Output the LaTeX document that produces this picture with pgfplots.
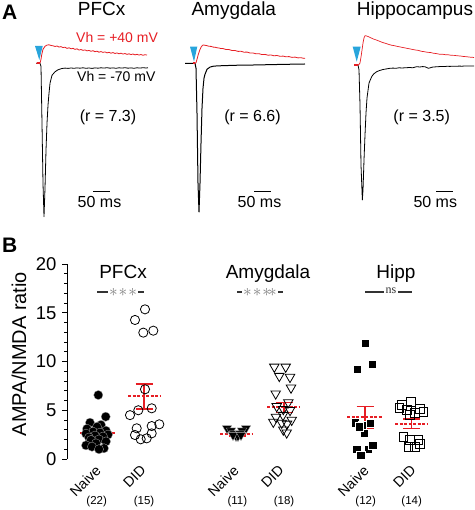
\documentclass[border=0pt]{standalone}
\usepackage{fontspec}
\setmainfont{Liberation Sans}
\usepackage{pgfplots}
\pgfplotsset{compat=1.18}
\definecolor{tred}{RGB}{230,30,36}
\definecolor{tblue}{RGB}{40,165,220}
\newcommand{\fs}[1]{\fontsize{#1}{#1}\selectfont}
\pgfplotsset{trace/.style={hide axis, x=0.33333pt, y=0.1pt, clip=false, anchor=south west, ymin=-1600, ymax=200},
 tr/.style={draw=tred, line width=0.8pt, line join=round},
 tb/.style={draw=black, line width=0.8pt, line join=round},
 meanline/.style={draw=tred, line width=1.8pt, dash pattern=on 3pt off 1.5pt},
 errbar/.style={draw=tred, line width=1.5pt}}
\begin{document}
\begin{tikzpicture}
\useasboundingbox (0pt,0pt) rectangle (474pt,510pt);
% ---------- Panel A: PFCx ----------
\begin{axis}[trace, at={(35pt,286.7pt)}, xmin=-15, xmax=330]
\addplot[fill=tblue, draw=none] coordinates {(-15,173) (8.1,173) (-2.1,33) (-15,173)};
\addplot[tb] coordinates {(-12,0) (0,0) (3,-30) (6,-600) (9,-1200) (12,-1534) (15,-1250) (18,-870) (21,-600) (24,-420) (27,-300) (30,-200) (36,-120) (45,-85) (54,-65) (60,-58) (66,-52) (75,-48) (84,-51) (93,-47) (102,-50) (111,-46) (120,-49) (129,-45) (138,-50) (147,-47) (156,-51) (165,-46) (174,-49) (183,-45) (192,-48) (201,-44) (210,-49) (219,-46) (228,-50) (237,-45) (246,-48) (255,-44) (264,-49) (273,-46) (282,-50) (291,-45) (300,-48) (309,-44) (318,-47) (324,-45)};
\addplot[tr] coordinates {(-12,0) (-3,0) (0,2) (3,40) (5,83) (9,140) (15,170) (21,182) (27,185) (33,178) (39,175) (45,168) (51,173) (57,162) (63,167) (69,157) (75,161) (81,149) (87,155) (93,145) (99,150) (105,139) (111,145) (117,132) (123,138) (129,129) (135,134) (141,124) (147,129) (153,120) (159,126) (165,116) (171,121) (177,111) (183,117) (189,109) (195,114) (201,104) (207,110) (213,101) (219,107) (225,98) (231,104) (237,95) (243,101) (249,92) (255,98) (261,89) (267,95) (273,87) (279,93) (285,84) (291,90) (297,82) (303,88) (309,80) (315,86) (321,82)};
\addplot[draw=tred, line width=2pt] coordinates {(-9,0) (0,0)};
\addplot[draw=black, line width=1.3pt] coordinates {(160,-1284) (210,-1284)};
\end{axis}
% ---------- Panel A: Amygdala ----------
\begin{axis}[trace, at={(184pt,286.7pt)}, xmin=-30, xmax=340]
\addplot[fill=tblue, draw=none] coordinates {(-12,166) (9.9,166) (0,16) (-12,166)};
\addplot[tb, line width=1pt] coordinates {(-27,0) (3,0) (6,-50) (9,-500) (12,-1200) (15,-1487) (18,-1200) (21,-800) (24,-450) (27,-250) (30,-150) (33,-110) (39,-60) (48,-38) (57,-30) (66,-27) (78,-25) (90,-23) (105,-22) (120,-20) (140,-19) (160,-18) (180,-17) (200,-16) (220,-14) (240,-13) (260,-11) (280,-10) (300,-9) (320,-8) (333,-7)};
\addplot[tr] coordinates {(0,0) (6,5) (9,40) (13,90) (17,130) (21,160) (25,178) (28,183) (33,180) (39,176) (45,170) (51,169) (57,162) (63,161) (69,155) (75,153) (81,147) (87,147) (96,138) (105,137) (114,128) (123,128) (132,119) (141,120) (150,111) (159,112) (168,103) (177,103) (186,95) (195,96) (204,87) (213,89) (222,81) (231,83) (240,75) (249,78) (258,70) (267,72) (276,65) (285,67) (294,59) (303,62) (312,54) (321,56) (330,49) (333,51)};
\addplot[draw=tred, line width=1.6pt] coordinates {(-4,0) (2,0)};
\addplot[draw=black, line width=1.3pt] coordinates {(181,-1284) (231,-1284)};
\end{axis}
% ---------- Panel A: Hippocampus ----------
\begin{axis}[trace, at={(352pt,285pt)}, xmin=-15, xmax=351]
\addplot[fill=tblue, draw=none] coordinates {(-12.9,183) (11.1,183) (-0.9,33) (-12.9,183)};
\addplot[tb] coordinates {(-9,0) (3,0) (6,-50) (9,-400) (12,-1000) (16,-1350) (18,-1250) (21,-950) (24,-700) (27,-480) (30,-330) (36,-180) (44,-117) (50,-90) (59,-67) (68,-55) (78,-45) (87,-40) (99,-33) (108,-31) (117,-33) (126,-28) (135,-30) (149,-27) (158,-25) (167,-28) (179,-17) (188,-20) (197,-16) (204,-18) (210,-26) (214,-33) (220,-28) (225,-22) (234,-19) (243,-17) (252,-15) (261,-16) (270,-13) (279,-14) (288,-12) (297,-13) (306,-11) (315,-12) (324,-10) (333,-11) (342,-10) (351,-10)};
\addplot[tr, line width=0.7pt] coordinates {(3,0) (6,5) (9,20) (12,80) (15,150) (18,220) (21,270) (24,293) (27,292) (33,285) (40,274) (49,260) (58,250) (67,238) (76,226) (85,217) (94,207) (103,198) (112,193) (121,186) (130,180) (139,174) (148,168) (157,162) (166,156) (175,150) (184,146) (193,137) (202,133) (211,127) (220,125) (229,118) (238,114) (247,108) (256,108) (265,103) (274,102) (283,97) (292,96) (301,92) (310,90) (319,85) (328,83) (337,79) (346,77) (351,75)};
\addplot[draw=tred, line width=2pt] coordinates {(-9,0) (3,0)};
\addplot[draw=black, line width=1.3pt] coordinates {(237,-1267) (287,-1267)};
\end{axis}
% ---------- Panel A texts ----------
\node[anchor=base west, font=\fs{21}\bfseries, inner sep=0] at (2pt,490pt) {A};
\node[anchor=base, font=\fs{19}, inner sep=0] at (101.7pt,494pt) {PFCx};
\node[anchor=base, font=\fs{19}, inner sep=0] at (233.8pt,494pt) {Amygdala};
\node[anchor=base west, font=\fs{19}, inner sep=0] at (356.7pt,494pt) {Hippocampus};
\node[anchor=base west, font=\fs{14}, text=tred, inner sep=0] at (76pt,467.5pt) {Vh = +40 mV};
\node[anchor=base west, font=\fs{14}, inner sep=0] at (77pt,428.5pt) {Vh = -70 mV};
\node[anchor=base, font=\fs{16}, inner sep=0] at (108pt,388.5pt) {(r = 7.3)};
\node[anchor=base, font=\fs{16}, inner sep=0] at (252.5pt,388.5pt) {(r = 6.6)};
\node[anchor=base, font=\fs{16}, inner sep=0] at (421.7pt,388.5pt) {(r = 3.5)};
\node[anchor=base, font=\fs{16}, inner sep=0] at (99.5pt,302.7pt) {50 ms};
\node[anchor=base, font=\fs{16}, inner sep=0] at (259.5pt,302.7pt) {50 ms};
\node[anchor=base, font=\fs{16}, inner sep=0] at (435.3pt,302.7pt) {50 ms};
% ---------- Panel B ----------
\begin{axis}[at={(67pt,51pt)}, anchor=south west, scale only axis, width=407pt, height=195pt,
 xmin=67, xmax=474, ymin=0, ymax=20, clip=false,
 axis x line=none, axis y line=left, axis line style={-, line width=0.8pt},
 ytick={0,5,10,15,20}, minor ytick={1,2,3,4,6,7,8,9,11,12,13,14,16,17,18,19},
 tick align=outside, major tick length=5pt, minor tick length=3pt,
 tick style={line width=0.8pt, black},
 /pgf/number format/assume math mode=true,
 yticklabel style={font=\fs{18.5}, xshift=-2pt}]
% PFCx naive
\addplot[only marks, mark=*, mark size=4.6pt, mark options={fill=black, draw=gray!60, line width=0.3pt}] coordinates {(98.3,6.56) (105.7,4.34) (90,3.73) (101,3.5) (97,3.3) (87,3.1) (106,2.9) (93,2.8) (100,2.7) (86,2.6) (108,2.5) (95,2.4) (103,2.3) (89,2.2) (99,2.0) (91,1.95) (106,1.8) (96,1.6) (86,1.4) (92,1.26) (104,1.1) (99,1.0)};
% PFCx DID
\addplot[only marks, mark=o, mark size=4.6pt, mark options={black, line width=0.8pt}] coordinates {(135,14.26) (145,15.35) (143.3,12.96) (153.3,13.16) (145,7.15) (130,4.5) (138.3,5.0) (151.7,5.2) (136.7,3.15) (151.7,3.38) (159.3,3.56) (135,2.46) (140.7,2.02) (146.7,2.12) (151.7,2.63)};
% Amygdala naive
\addplot[only marks, mark=triangle*, mark size=5.5pt, mark options={rotate=180, fill=black, draw=gray!60, line width=0.3pt}] coordinates {(227,3.15) (246,3.15) (231,2.9) (242,2.9) (234,2.6) (240,2.6) (237,2.4) (236,2.35) (238,2.35) (233,2.45) (241,2.45)};
% Amygdala DID
\addplot[only marks, mark=triangle, mark size=5.5pt, mark options={rotate=180, black, line width=0.8pt}] coordinates {(274.3,9.45) (285.7,9.45) (279.3,8.5) (290,8.4) (291,7.3) (275.7,6.7) (288.3,5.8) (276.7,5.4) (283.3,5.1) (290,5.0) (276,4.3) (283,4.5) (291.7,4.0) (273.3,3.8) (281.7,3.7) (287,3.6) (283.3,3.0) (286.7,2.7)};
% Hipp naive
\addplot[only marks, mark=square*, mark size=4.2pt, mark options={fill=black, draw=white, line width=0.3pt}] coordinates {(365,11.87) (357.3,9.2) (372.3,9.74) (355,3.73) (362,3.5) (370,3.65) (364,2.63) (356.7,1.0) (368.3,1.0) (372.7,1.44) (360.7,0.41) (359,3.3)};
% Hipp DID
\addplot[only marks, mark=square, mark size=4.4pt, mark options={black, line width=0.8pt}] coordinates {(401.7,5.54) (410.7,5.88) (420,5.1) (406.7,5.03) (415,4.69) (399.3,5.2) (423.3,4.85) (410,4.5) (403.3,2.29) (410,1.95) (418.3,1.95) (408.3,1.26) (415,1.26) (420,1.54)};
% means (dashed) and SEM
\addplot[meanline] coordinates {(80,2.63) (115,2.63)};
\addplot[errbar] coordinates {(97,2.35) (97,2.91)};
\addplot[errbar] coordinates {(88.5,2.35) (105.5,2.35)};
\addplot[errbar] coordinates {(88.5,2.91) (105.5,2.91)};
\addplot[meanline] coordinates {(128,6.46) (161,6.46)};
\addplot[errbar] coordinates {(144,5.13) (144,7.69)};
\addplot[errbar] coordinates {(135.5,5.13) (152.5,5.13)};
\addplot[errbar] coordinates {(135.5,7.69) (152.5,7.69)};
\addplot[meanline] coordinates {(220,2.53) (253,2.53)};
\addplot[errbar] coordinates {(237,2.38) (237,2.68)};
\addplot[errbar] coordinates {(228.5,2.38) (245.5,2.38)};
\addplot[errbar] coordinates {(228.5,2.68) (245.5,2.68)};
\addplot[meanline] coordinates {(267,5.3) (300,5.3)};
\addplot[errbar] coordinates {(284,4.75) (284,5.81)};
\addplot[errbar] coordinates {(275.5,4.75) (292.5,4.75)};
\addplot[errbar] coordinates {(275.5,5.81) (292.5,5.81)};
\addplot[meanline] coordinates {(347,4.27) (383,4.27)};
\addplot[errbar] coordinates {(365,3.15) (365,5.4)};
\addplot[errbar] coordinates {(356.5,3.15) (373.5,3.15)};
\addplot[errbar] coordinates {(356.5,5.4) (373.5,5.4)};
\addplot[meanline] coordinates {(395,3.62) (428,3.62)};
\addplot[errbar] coordinates {(411.5,3.11) (411.5,4.1)};
\addplot[errbar] coordinates {(403,3.11) (420,3.11)};
\addplot[errbar] coordinates {(403,4.1) (420,4.1)};
\end{axis}
% ---------- Panel B texts ----------
\node[anchor=base west, font=\fs{21}\bfseries, inner sep=0] at (2pt,257pt) {B};
\node[rotate=90, font=\fs{20}] at (19pt,156pt) {AMPA/NMDA ratio};
\node[anchor=base, font=\fs{19}, inner sep=0] at (123pt,231pt) {PFCx};
\node[anchor=base, font=\fs{19}, inner sep=0] at (268pt,231pt) {Amygdala};
\node[anchor=base, font=\fs{19}, inner sep=0] at (396pt,231pt) {Hipp};
\draw[black!80, line width=1.2pt] (97pt,218pt) -- (144pt,218pt);
\node[fill=white, inner sep=1.5pt, text=gray, font=\fs{16}] at (123pt,218pt) {$\ast\!\ast\!\ast$};
\draw[black!80, line width=1.2pt] (237pt,218pt) -- (283pt,218pt);
\node[fill=white, inner sep=1pt, text=gray, font=\fs{16}] at (260pt,218pt) {$\ast\!\ast\!\ast\!\ast$};
\draw[black!80, line width=1.2pt] (365pt,218pt) -- (412pt,218pt);
\node[fill=white, inner sep=1.5pt, text=black!80, font=\fs{12}\fontspec{Liberation Serif}] at (391pt,219pt) {ns};
\foreach \x/\t in {99/Naive,144/DID,237/Naive,282/DID,367/Naive,414/DID}
  \node[rotate=45, anchor=east, font=\fs{14.3}, inner sep=1pt] at (\x pt,43pt) {\t};
\foreach \x/\t in {96.7/22,144/15,237.3/11,284/18,365.7/12,411.7/14}
  \node[font=\fs{11.5}, inner sep=0] at (\x pt,8.3pt) {(\t)};
\end{tikzpicture}
\end{document}
